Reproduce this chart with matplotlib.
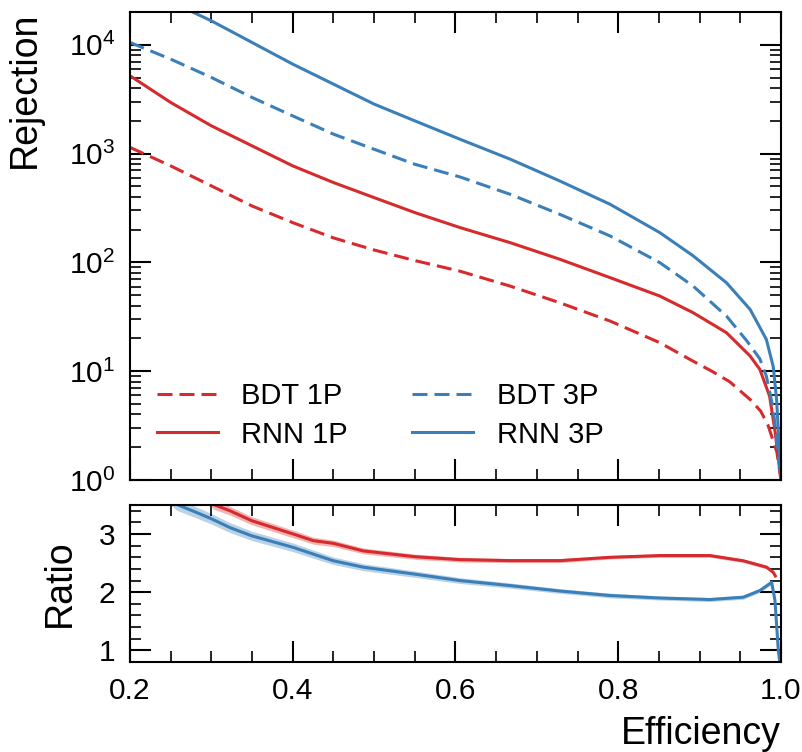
import numpy as np
import matplotlib
matplotlib.use("Agg")
import matplotlib.pyplot as plt
from matplotlib.ticker import MultipleLocator, LogLocator, NullFormatter

plt.rcParams['font.family'] = ['Liberation Sans', 'DejaVu Sans']
plt.rcParams['mathtext.default'] = 'regular'

red = '#d62a2c'
blue = '#3b7fb8'

# rejection curves
eff_bdt1p = [0.2, 0.25, 0.30, 0.35, 0.40, 0.45, 0.50, 0.55, 0.6055, 0.667, 0.728, 0.79, 0.851, 0.89, 0.915, 0.937, 0.962, 0.975, 0.984, 0.995, 1.0]
rej_bdt1p = [1140, 771, 505, 330, 232, 168, 130, 104, 83, 60.6, 42.6, 28.9, 18.3, 12.6, 10.0, 8.0, 5.5, 4.3, 3.2, 1.8, 1.0]

eff_rnn1p = [0.2, 0.25, 0.30, 0.35, 0.40, 0.45, 0.50, 0.55, 0.6055, 0.667, 0.728, 0.79, 0.851, 0.892, 0.933, 0.962, 0.974, 0.986, 0.993, 1.0]
rej_rnn1p = [5190, 2950, 1800, 1178, 771, 542, 394, 287, 209, 152, 107, 72.4, 49.1, 34.5, 22.6, 13.8, 10.4, 5.9, 2.7, 1.0]

eff_bdt3p = [0.2, 0.25, 0.30, 0.35, 0.40, 0.45, 0.50, 0.55, 0.6055, 0.667, 0.728, 0.79, 0.851, 0.892, 0.933, 0.958, 0.974, 0.982, 0.9905, 1.0]
rej_bdt3p = [10500, 7380, 5010, 3280, 2220, 1510, 1096, 798, 610, 423, 277, 175, 99.6, 60.6, 32.1, 19.0, 13, 9, 4.5, 1.0]

eff_rnn3p = [0.268, 0.30, 0.35, 0.40, 0.45, 0.50, 0.55, 0.6055, 0.667, 0.728, 0.79, 0.851, 0.892, 0.933, 0.962, 0.972, 0.982, 0.9905, 0.9946, 1.0]
rej_rnn3p = [21500, 16600, 10500, 6640, 4350, 2850, 2000, 1355, 890, 561, 342, 188, 115, 65, 37, 27, 19.6, 11, 5.5, 1.0]

# ratio RNN / BDT
eff_r1p = [0.295, 0.3024, 0.3229, 0.3495, 0.4007, 0.4253, 0.4499, 0.4867, 0.5502, 0.6055, 0.6669, 0.7284, 0.7898, 0.8513, 0.9127, 0.9537, 0.9824, 0.9906, 0.993]
ratio_1p = [3.62, 3.51, 3.40, 3.23, 3.0, 2.886, 2.84, 2.71, 2.61, 2.56, 2.543, 2.543, 2.6, 2.63, 2.63, 2.54, 2.43, 2.34, 2.28]
err_1p = [0.08, 0.08, 0.075, 0.07, 0.065, 0.06, 0.055, 0.05, 0.045, 0.04, 0.035, 0.035, 0.03, 0.03, 0.03, 0.03, 0.03, 0.03, 0.03]

eff_r3p = [0.25, 0.2573, 0.2819, 0.3004, 0.3229, 0.3495, 0.4007, 0.4499, 0.4867, 0.5502, 0.6055, 0.6669, 0.7284, 0.7898, 0.8513, 0.9127, 0.9537, 0.9742, 0.9885, 0.9926, 0.9967, 0.9988]
ratio_3p = [3.6, 3.51, 3.37, 3.26, 3.11, 2.97, 2.77, 2.54, 2.43, 2.31, 2.2, 2.114, 2.02, 1.943, 1.90, 1.874, 1.914, 2.03, 2.17, 1.86, 1.0, 0.77]
err_3p = [0.1, 0.1, 0.095, 0.09, 0.085, 0.08, 0.075, 0.065, 0.06, 0.055, 0.05, 0.045, 0.04, 0.04, 0.035, 0.035, 0.035, 0.035, 0.035, 0.035, 0.035, 0.035]

fig = plt.figure(figsize=(8.02, 7.52), dpi=100)
ax = fig.add_axes([0.1621, 0.3617, 0.8117, 0.6223])
axr = fig.add_axes([0.1621, 0.1197, 0.8117, 0.2088], sharex=ax)

dash = (0, (4.9, 2.3))
ax.plot(eff_bdt1p, rej_bdt1p, color=red, lw=2.2, ls=dash, label='BDT 1P')
ax.plot(eff_rnn1p, rej_rnn1p, color=red, lw=2.2, label='RNN 1P')
ax.plot(eff_bdt3p, rej_bdt3p, color=blue, lw=2.2, ls=dash, label='BDT 3P')
ax.plot(eff_rnn3p, rej_rnn3p, color=blue, lw=2.2, label='RNN 3P')

ax.set_yscale('log')
ax.set_ylim(1, 2e4)
ax.set_xlim(0.2, 1.0)
ax.yaxis.set_major_locator(LogLocator(base=10, numticks=10))
ax.yaxis.set_minor_locator(LogLocator(base=10, subs=np.arange(2, 10), numticks=20))
ax.yaxis.set_minor_formatter(NullFormatter())

ax.legend(loc='lower left', bbox_to_anchor=(0.023, 0.042), borderaxespad=0, ncol=2, frameon=False,
          fontsize=21, handlelength=2.1, handletextpad=0.8, columnspacing=2.2, labelspacing=0.35)

r1 = np.array(ratio_1p)
r3 = np.array(ratio_3p)
axr.fill_between(eff_r3p, r3 - np.array(err_3p), r3 + np.array(err_3p), color=blue, alpha=0.35, lw=0)
axr.fill_between(eff_r1p, r1 - np.array(err_1p), r1 + np.array(err_1p), color=red, alpha=0.35, lw=0)
axr.plot(eff_r3p, ratio_3p, color=blue, lw=2.2)
axr.plot(eff_r1p, ratio_1p, color=red, lw=2.2)
axr.set_ylim(0.8, 3.5)
axr.set_yticks([1, 2, 3])
axr.yaxis.set_minor_locator(MultipleLocator(0.2))
axr.set_xticks([0.2, 0.4, 0.6, 0.8, 1.0])

for a in (ax, axr):
    a.xaxis.set_minor_locator(MultipleLocator(0.05))
    a.tick_params(which='both', direction='in', top=True, right=True)
    a.tick_params(which='major', length=15, width=1.5, labelsize=21.5, pad=10.5)
    a.tick_params(which='minor', length=8, width=1.2)
    for s in a.spines.values():
        s.set_linewidth(1.5)
ax.tick_params(labelbottom=False)

ax.set_ylabel('Rejection', fontsize=27, loc='top')
ax.yaxis.set_label_coords(-0.1336, 1.0)
axr.set_ylabel('Ratio', fontsize=27)
axr.yaxis.set_label_coords(-0.08, 0.5)
axr.set_xlabel('Efficiency', fontsize=27, loc='right')
axr.xaxis.set_label_coords(1.0, -0.342)

fig.savefig('out.png', dpi=100)
